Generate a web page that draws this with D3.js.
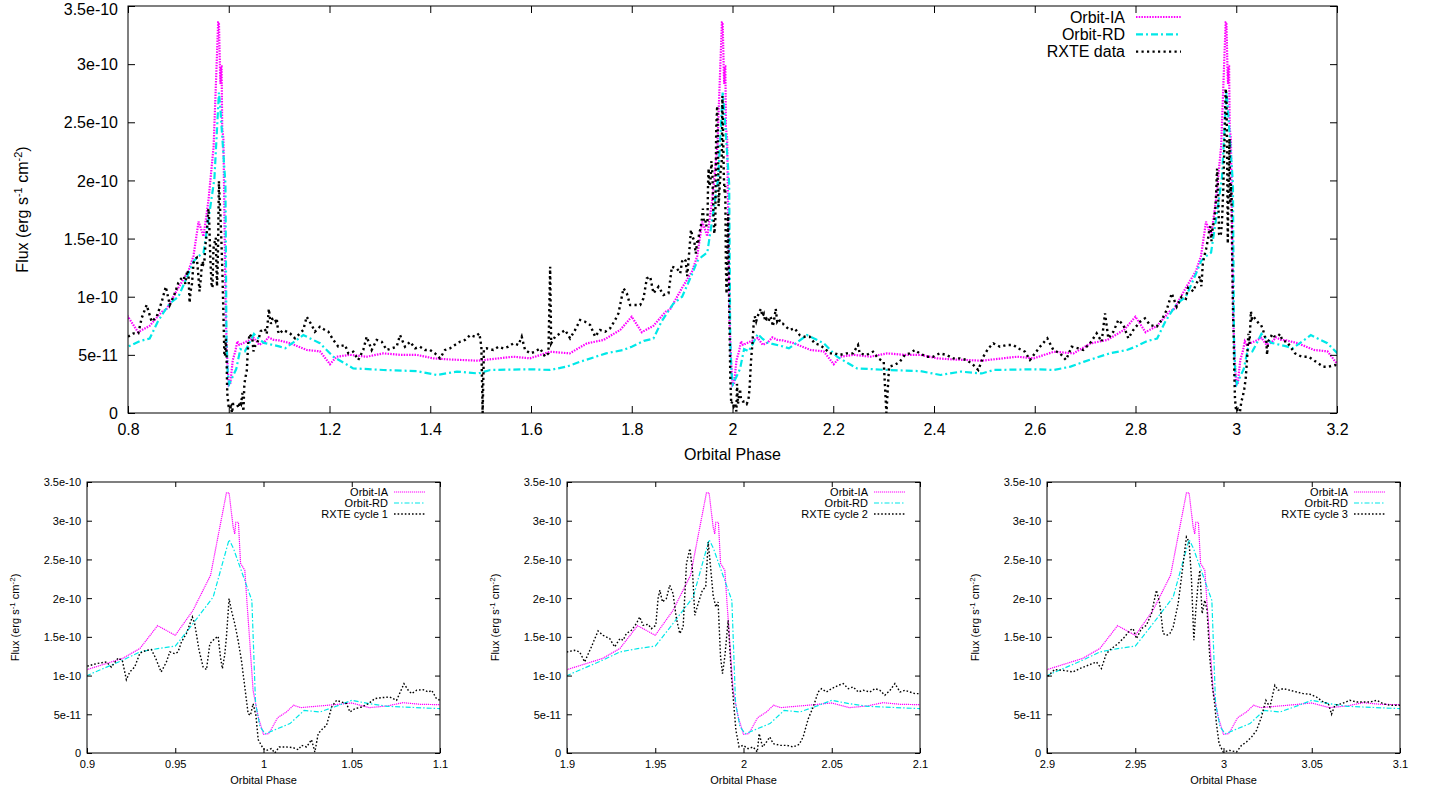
<!DOCTYPE html>
<html>
<head>
<meta charset="utf-8">
<script src="https://cdn.jsdelivr.net/npm/d3@7"></script>
<style>
  html, body { margin: 0; padding: 0; background: #fff; }
  svg { display: block; }
  text { font-family: "Liberation Sans", Arial, Helvetica, sans-serif; fill: #000; }
</style>
</head>
<body>
<svg id="chart" width="1442" height="792"></svg>
<script>
// ---------------- DATA (flux in units of 1e-11 erg s^-1 cm^-2) ----------------
// Orbit-IA model over one orbital cycle (phase fraction)
const iaPhase = [0.000,0.003,0.008,0.013,0.017,0.021,0.040,0.050,0.060,0.070,0.079,0.089,0.100,0.122,0.155,0.181,0.201,0.214,0.241,0.274,0.307,0.340,0.373,0.406,0.440,0.495,0.565,0.598,0.638,0.677,0.711,0.744,0.777,0.800,0.820,0.843,0.867,0.876,0.900,0.920,0.930,0.940,0.950,0.960,0.970,0.979,0.9805,0.9828,0.9837,0.9843,0.9858,0.987,0.9894,0.9941,0.997];
const iaFlux  = [2.4,2.5,4.56,5.3,6.16,5.86,6.24,6.46,5.86,6.07,6.5,6.29,6.24,6.0,5.42,5.3,4.19,4.84,5.0,4.84,5.13,5.0,5.0,4.7,4.6,4.5,4.84,4.7,5.27,5.13,5.99,6.28,7.14,8.28,6.95,7.5,8.7,8.9,10.77,12.2,13.5,16.45,15.2,18.4,22.95,33.6,33.6,29.2,28.3,29.8,29.8,24.5,23.6,8.1,4.65];
// Orbit-RD model over one orbital cycle
const rdPhase = [0.001,0.008,0.015,0.023,0.032,0.040,0.050,0.060,0.070,0.079,0.100,0.112,0.148,0.181,0.2075,0.247,0.307,0.373,0.413,0.453,0.495,0.519,0.598,0.638,0.671,0.697,0.749,0.783,0.800,0.824,0.843,0.859,0.870,0.8825,0.900,0.920,0.930,0.940,0.950,0.960,0.9715,0.9805,0.983,0.9934,0.9955,0.998];
const rdFlux  = [2.5,3.14,3.8,5.5,5.3,5.94,6.8,6.37,6.03,5.94,5.73,5.56,6.7,6.0,4.84,3.84,3.7,3.6,3.27,3.56,3.4,3.7,3.76,3.7,3.99,4.4,5.13,5.42,5.7,6.2,6.4,7.85,8.6,9.4,10.0,11.97,13.05,13.48,13.8,16.7,20.15,27.56,26.4,19.7,6.4,3.4];
const modelCycles = [0, 1, 2, 3];

// RXTE data (orbital phase, flux)
const rxtePhase = [0.800,0.811,0.8205,0.827,0.837,0.847,0.857,0.867,0.875,0.883,0.893,
0.900,0.9053,0.911,0.9138,0.9176,0.920,0.9223,0.9242,0.927,0.930,0.9336,0.9365,0.939,0.942,0.945,0.9469,0.9497,0.9516,0.9535,0.9563,0.9597,0.961,0.9635,0.9658,0.9677,0.9696,0.9724,0.9743,0.9756,0.9767,0.978,0.979,0.9805,0.9818,0.9837,0.9856,0.9875,0.9894,0.9913,0.9926,0.9941,0.9957,0.997,0.9998,
1.0017,1.0045,1.0064,1.0089,1.013,1.0168,1.0197,1.0216,1.0244,1.0272,1.0291,1.031,1.0335,1.0357,1.0386,1.0414,1.0442,1.047,1.049,1.0518,1.0556,1.0594,1.0631,1.0669,1.0716,1.0754,1.0796,1.082,1.0839,1.0868,1.0905,1.0934,1.0953,1.098,1.100,
1.108,1.1216,1.1315,1.1414,1.148,1.1547,1.1646,1.171,1.181,1.191,1.1977,1.2076,1.2175,1.2308,1.2374,1.2473,1.257,1.267,1.2738,1.2837,1.2936,1.3036,1.3135,1.3234,1.3333,1.340,1.3499,1.360,1.370,1.3797,1.3896,1.3995,1.4094,1.4194,1.4293,1.439,1.449,1.459,1.469,1.479,1.489,1.4975,
1.5015,1.504,1.5065,1.5121,1.5253,1.5353,1.5452,1.5551,1.5651,1.575,1.5816,1.5882,1.5981,1.608,1.618,1.628,1.6346,1.638,1.640,1.6478,1.6578,1.6677,1.6776,1.6876,1.6975,1.7074,1.7174,1.7273,1.7372,1.7472,1.7571,1.767,1.7736,1.7836,1.7902,1.7968,1.8068,1.8167,1.8233,1.830,1.8366,1.8432,1.8531,1.863,1.873,1.8796,1.8896,1.8962,
1.900,1.9043,1.9072,1.910,1.9138,1.9176,1.9204,1.9242,1.927,1.930,1.9318,1.9336,1.9365,1.9393,1.9412,1.9431,1.946,1.9478,1.9503,1.9516,1.9526,1.9541,1.9563,1.9582,1.9601,1.962,1.9639,1.9658,1.9677,1.9696,1.9711,1.9724,1.9743,1.9767,1.9786,1.980,1.9815,1.9828,1.9843,1.9856,1.987,1.9881,1.9894,1.9913,1.9932,1.9957,1.9975,1.9998,
2.0026,2.0055,2.0078,2.0089,2.0108,2.013,2.0149,2.0168,2.0206,2.0244,2.0282,2.0316,2.0338,2.0367,2.0395,2.0423,2.0442,2.047,2.0499,2.0537,2.0565,2.0594,2.0622,2.065,2.0679,2.0716,2.0745,2.0773,2.0801,2.083,2.0858,2.0887,2.0915,2.0943,2.0972,2.100,
2.1135,2.1234,2.1334,2.1433,2.1532,2.1631,2.1731,2.183,2.193,2.2029,2.2128,2.2261,2.2393,2.2492,2.2525,2.2658,2.279,2.289,2.3002,2.3055,2.3108,2.3221,2.332,2.342,2.3519,2.3618,2.3717,2.385,2.3982,2.4114,2.4247,2.4379,2.4511,2.4648,2.478,2.4879,2.4978,2.5078,2.5177,2.531,2.5442,2.5574,2.5674,2.5806,2.5905,2.6004,2.6104,2.625,2.6369,2.6501,2.662,2.6733,2.6865,2.6964,2.7097,2.7229,2.7328,2.7395,2.7461,2.756,2.766,2.7759,2.7858,2.7957,2.809,2.8189,2.8289,2.8421,2.852,2.8619,2.8719,2.8818,2.8917,
2.900,2.9043,2.9091,2.9147,2.9185,2.9233,2.928,2.9308,2.9336,2.9365,2.9403,2.944,2.9469,2.9488,2.9507,2.9535,2.9563,2.9592,2.962,2.9639,2.9658,2.9677,2.9696,2.9715,2.9743,2.9767,2.979,2.9805,2.9818,2.9832,2.9843,2.9856,2.9866,2.9879,2.9894,2.9907,2.9922,2.9937,2.995,2.996,2.9975,2.9998,
3.0036,3.0074,3.0102,3.013,3.0159,3.0187,3.0215,3.024,3.0263,3.0291,3.031,3.0338,3.0376,3.0414,3.0452,3.049,3.0527,3.0565,3.0594,3.0612,3.0631,3.0669,3.0716,3.0754,3.0792,3.083,3.0868,3.0905,3.0943,3.100,
3.1166,3.1298,3.1431,3.153,3.1629,3.1728,3.1828,3.196,3.200];
const rxteFlux = [6.56,6.85,6.85,8.14,9.29,7.85,8.28,9.57,10.86,9.29,10.29,
11.2,11.54,11.76,11.1,12.27,11.97,9.47,10.46,11.1,12.9,13.26,13.35,12.19,10.46,11.76,13.05,12.83,13.05,14.34,15.42,17.57,16.71,13.26,11.1,10.77,14.13,14.77,15.07,12.4,10.9,12.62,14.99,19.94,18.43,16.71,14.56,11.97,8.53,5.08,4.87,6.37,4.87,1.72,0.56,
0.34,0.56,0,0.78,0.78,0.69,0.43,0.99,0.78,1.72,0.13,2.5,3.14,3.57,5.94,6.8,6.59,6.37,5.3,5.73,5.94,6.37,7.02,7.15,7.23,6.8,8.96,8.1,7.67,8.1,8.18,7.88,8.1,7.02,6.8,
7.14,6.85,6.42,6.85,7.14,8.28,7.57,6.99,7.42,7.14,6.99,6.28,5.7,5.85,5.13,5.27,4.56,5.42,6.56,5.42,6.28,6.13,5.42,5.56,5.7,6.7,5.7,6.13,5.56,5.7,5.42,5.42,5.13,4.7,5.42,5.56,5.85,6.13,6.28,6.7,6.56,6.85,
5.7,0,5.5,5.56,5.42,5.7,5.56,5.7,5.99,5.85,6.56,5.42,5.13,5.27,5.56,4.84,5.13,12.58,5.99,6.56,6.85,7.14,6.42,7.14,8.0,7.85,7.57,6.56,7.14,6.99,7.28,8.0,8.57,10.72,10.29,9.29,9.29,9.29,9.86,11.58,11.72,10.29,10.86,10.15,10.29,12.58,12.44,12.01,
13.05,13.26,13.05,11.76,13.7,15.76,15.2,14.77,13.7,14.77,14.56,15.42,15.85,16.71,17.57,16.49,16.62,16.06,16.49,19.94,21.02,19.51,19.94,21.66,20.59,17.36,15.42,16.28,24.46,26.4,23.6,17.79,19.29,21.02,21.45,27.26,23.6,20.37,18.86,19.51,12.4,10.25,12.4,17.14,9.82,2.93,0.78,0.99,
0.56,0.78,0.13,2.5,0.78,1.42,2.07,1.21,0.99,0.99,0.78,1.12,2.07,4.44,5.94,7.88,8.31,7.88,8.31,8.74,8.96,8.31,8.53,7.88,8.1,7.88,8.31,8.1,7.45,8.1,8.96,7.88,8.1,7.88,7.67,7.67,
7.14,7.28,6.7,6.56,6.56,5.99,5.85,5.56,5.13,5.13,4.99,5.13,5.13,5.85,5.13,4.99,5.27,4.7,4.41,0,3.98,4.13,4.41,4.99,5.13,5.42,5.13,4.84,4.84,5.13,4.99,4.7,4.7,4.56,4.13,3.7,4.84,5.56,5.99,5.7,5.85,5.85,5.56,5.27,4.56,5.13,5.7,6.42,5.42,5.13,4.56,5.7,5.56,5.42,5.99,6.85,6.13,8.57,6.42,6.99,8.0,7.57,6.42,7.14,7.85,8.14,7.57,7.42,8.0,8.86,10.29,9.14,10.0,
9.82,10.77,10.68,10.46,10.9,11.33,11.76,10.9,12.83,13.48,14.13,14.99,15.85,16.06,14.77,16.06,16.49,18.0,21.02,19.29,15.42,15.2,15.42,16.28,19.29,23.6,27.9,27.26,22.74,14.56,18.43,21.88,23.6,18.0,19.72,18.43,12.4,8.53,6.37,3.79,1.21,0.13,
0.34,0.13,0.99,1.42,2.07,2.93,4.65,6.8,5.94,8.74,8.1,8.31,8.1,7.88,7.67,7.58,7.23,6.59,6.37,5.0,6.16,6.37,6.8,6.59,6.59,6.59,6.8,6.37,6.16,6.16,
5.13,4.84,4.84,4.56,4.27,3.98,3.98,4.13,3.98];

// Axes ticks & labels
const yTickValues = [0, 5, 10, 15, 20, 25, 30, 35];
const yTickLabels = ["0", "5e-11", "1e-10", "1.5e-10", "2e-10", "2.5e-10", "3e-10", "3.5e-10"];
const mainXTickValues = [0.8, 1.0, 1.2, 1.4, 1.6, 1.8, 2.0, 2.2, 2.4, 2.6, 2.8, 3.0, 3.2];
const mainXTickLabels = ["0.8", "1", "1.2", "1.4", "1.6", "1.8", "2", "2.2", "2.4", "2.6", "2.8", "3", "3.2"];
const zoomCycles = [1, 2, 3];
const zoomXTickValues = [[0.9, 0.95, 1.0, 1.05, 1.1], [1.9, 1.95, 2.0, 2.05, 2.1], [2.9, 2.95, 3.0, 3.05, 3.1]];
const zoomXTickLabels = [["0.9", "0.95", "1", "1.05", "1.1"], ["1.9", "1.95", "2", "2.05", "2.1"], ["2.9", "2.95", "3", "3.05", "3.1"]];
const mainLegend = ["Orbit-IA", "Orbit-RD", "RXTE data"];
const zoomLegend = [["Orbit-IA", "Orbit-RD", "RXTE cycle 1"], ["Orbit-IA", "Orbit-RD", "RXTE cycle 2"], ["Orbit-IA", "Orbit-RD", "RXTE cycle 3"]];

// ---------------- build series ----------------
const iaSeries = modelCycles.flatMap(k => iaPhase.map((p, i) => [p + k, iaFlux[i]]));
const rdSeries = modelCycles.flatMap(k => rdPhase.map((p, i) => [p + k, rdFlux[i]]));
const rxteSeries = rxtePhase.map((p, i) => [p, rxteFlux[i]]);

const svg = d3.select("#chart");
const FONT = '"Liberation Sans", Arial, Helvetica, sans-serif';

function drawPanel(cfg) {
  const { id, left, right, top, bottom, xDomain, xTicks, xLabels, fs, supFs, tick, legend, styles, legendCfg, ylabX, xlabBase, xTickBase, yTickGap } = cfg;
  const x = d3.scaleLinear().domain(xDomain).range([left, right]);
  const y = d3.scaleLinear().domain([0, 35]).range([bottom, top]);
  const g = svg.append("g");

  g.append("clipPath").attr("id", id).append("rect")
    .attr("x", left).attr("y", top - 1).attr("width", right - left).attr("height", bottom - top + 1);

  const line = d3.line().x(d => x(d[0])).y(d => y(d[1]));
  const inRange = s => s.filter(d => d[0] >= xDomain[0] - 0.05 && d[0] <= xDomain[1] + 0.05);
  const series = [inRange(iaSeries), inRange(rdSeries), inRange(rxteSeries)];

  const plot = g.append("g").attr("clip-path", `url(#${id})`);
  series.forEach((s, i) => {
    plot.append("path").datum(s).attr("d", line)
      .attr("fill", "none").attr("stroke", styles[i].color)
      .attr("stroke-width", styles[i].width).attr("stroke-dasharray", styles[i].dash)
      .attr("stroke-linejoin", "miter");
  });

  // axes (ticks inward, mirrored)
  const yFmt = (d) => yTickLabels[yTickValues.indexOf(d)];
  const xFmt = (d) => xLabels[xTicks.indexOf(d)];

  const ax = [
    g.append("g").attr("transform", `translate(0,${bottom})`).call(d3.axisBottom(x).tickValues(xTicks).tickFormat(xFmt).tickSize(-tick).tickPadding(0)),
    g.append("g").attr("transform", `translate(0,${top})`).call(d3.axisTop(x).tickValues(xTicks).tickFormat("").tickSize(-tick)),
    g.append("g").attr("transform", `translate(${left},0)`).call(d3.axisLeft(y).tickValues(yTickValues).tickFormat(yFmt).tickSize(-tick).tickPadding(yTickGap)),
    g.append("g").attr("transform", `translate(${right},0)`).call(d3.axisRight(y).tickValues(yTickValues).tickFormat("").tickSize(-tick))
  ];
  ax.forEach(a => {
    a.select(".domain").remove();
    a.attr("font-family", FONT).attr("font-size", fs);
    a.selectAll("line").attr("stroke", "#000").attr("stroke-width", 1);
    a.selectAll("text").attr("fill", "#000");
  });
  ax[0].selectAll("text").attr("y", xTickBase).attr("dy", null);
  // keep the top label fully inside the picture
  ax[2].selectAll("text").attr("dy", d => (y(d) - fs * 0.5 < 1) ? (1 - y(d) + fs * 0.85) + "px" : "0.35em");

  g.append("rect").attr("x", left).attr("y", top).attr("width", right - left).attr("height", bottom - top)
    .attr("fill", "none").attr("stroke", "#000").attr("stroke-width", 1);

  // x label
  g.append("text").attr("x", (left + right) / 2).attr("y", bottom + xlabBase)
    .attr("text-anchor", "middle").attr("font-size", fs).text("Orbital Phase");

  // y label
  const yl = g.append("text").attr("transform", `translate(${ylabX},${(top + bottom) / 2}) rotate(-90)`)
    .attr("text-anchor", "middle").attr("font-size", fs);
  yl.append("tspan").text("Flux (erg s");
  yl.append("tspan").attr("font-size", supFs).attr("dy", -fs * 0.4).text("-1");
  yl.append("tspan").attr("dy", fs * 0.4).text(" cm");
  yl.append("tspan").attr("font-size", supFs).attr("dy", -fs * 0.4).text("-2");
  yl.append("tspan").attr("dy", fs * 0.4).text(")");

  // legend
  legend.forEach((t, i) => {
    const ly = legendCfg.y0 + i * legendCfg.dy;
    g.append("text").attr("x", legendCfg.textX).attr("y", ly).attr("dy", "0.35em")
      .attr("text-anchor", "end").attr("font-size", fs).text(t);
    g.append("line").attr("x1", legendCfg.x1).attr("x2", legendCfg.x2).attr("y1", ly).attr("y2", ly)
      .attr("stroke", styles[i].color).attr("stroke-width", styles[i].width).attr("stroke-dasharray", styles[i].dash);
  });
}

// Main panel
drawPanel({
  id: "clipMain", left: 128, right: 1337, top: 6, bottom: 413,
  xDomain: [0.8, 3.2], xTicks: mainXTickValues, xLabels: mainXTickLabels,
  fs: 16, supFs: 11, tick: 7, legend: mainLegend, ylabX: 28, xlabBase: 47, xTickBase: 22, yTickGap: 10,
  styles: [
    { color: "#ff00ff", width: 2.2, dash: "1.5,1.2" },
    { color: "#00e8e8", width: 2.2, dash: "7,3,2,3" },
    { color: "#000000", width: 2.4, dash: "2.2,3.3" }
  ],
  legendCfg: { textX: 1125, x1: 1136, x2: 1181, y0: 17, dy: 17.3 }
});

// Zoom panels
const zoomLefts = [87, 567, 1047];
zoomCycles.forEach((c, i) => {
  const L = zoomLefts[i];
  drawPanel({
    id: "clipZoom" + c, left: L, right: L + 353, top: 482, bottom: 753,
    xDomain: [c - 0.1, c + 0.1], xTicks: zoomXTickValues[i], xLabels: zoomXTickLabels[i],
    fs: 11, supFs: 8, tick: 5, legend: zoomLegend[i], ylabX: L - 68, xlabBase: 30.5, xTickBase: 15, yTickGap: 6,
    styles: [
      { color: "#ff00ff", width: 1.2, dash: "1.2,0.8" },
      { color: "#00e8e8", width: 1.2, dash: "5,2,1.5,2" },
      { color: "#000000", width: 1.4, dash: "1.6,2" }
    ],
    legendCfg: { textX: L + 301, x1: L + 307, x2: L + 338, y0: 492, dy: 11 }
  });
});
</script>
</body>
</html>
